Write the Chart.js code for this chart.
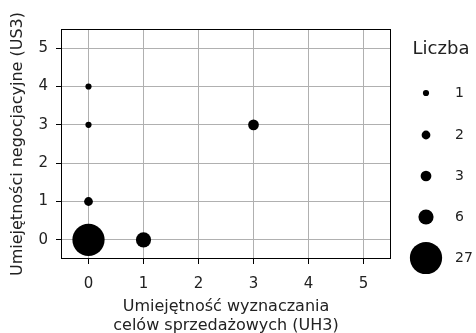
<!DOCTYPE html>
<html>
<head>
<meta charset="utf-8">
<script src="https://cdn.jsdelivr.net/npm/chart.js@4/dist/chart.umd.min.js"></script>
<style>
  html, body { margin: 0; padding: 0; background: #fff; }
  #wrap { width: 476px; height: 333px; }
</style>
</head>
<body>
<div id="wrap"><canvas id="c" width="476" height="333"></canvas></div>
<script>
// Skill pairs (UH3, US3) and how many respondents gave each pair
const uh3Values = [0, 1, 0, 0, 0, 3];
const us3Values = [0, 0, 1, 3, 4, 3];
const counts    = [27, 6, 2, 1, 1, 3];
const tickLabels = [0, 1, 2, 3, 4, 5];
const legendCounts = [1, 2, 3, 6, 27];

const FONT = "'DejaVu Sans', sans-serif";
const radiusFor = n => 3.1 * Math.sqrt(n);

const points = uh3Values.map((x, i) => ({ x: x, y: us3Values[i], n: counts[i] }));

const frameAndLegend = {
  id: 'frameAndLegend',
  afterDraw(chart) {
    const { ctx, chartArea: a } = chart;
    ctx.save();
    ctx.strokeStyle = '#000';
    ctx.lineWidth = 1;
    ctx.strokeRect(a.left + 0.5, a.top + 0.5, a.right - a.left - 1, a.bottom - a.top - 1);

    // size legend
    ctx.fillStyle = '#222';
    ctx.font = '18px ' + FONT;
    ctx.textAlign = 'center';
    ctx.textBaseline = 'middle';
    ctx.fillText('Liczba', 441, 49);
    const ys = [93, 135, 176, 217, 258];
    legendCounts.forEach((n, i) => {
      ctx.beginPath();
      ctx.fillStyle = '#000';
      ctx.arc(426, ys[i], radiusFor(n), 0, Math.PI * 2);
      ctx.fill();
      ctx.fillStyle = '#222';
      ctx.font = '14px ' + FONT;
      ctx.textAlign = 'left';
      ctx.fillText(String(n), 455, ys[i]);
    });
    ctx.restore();
  }
};

const fixedTicks = scale => { scale.ticks = tickLabels.map(v => ({ value: v })); };

new Chart(document.getElementById('c'), {
  type: 'scatter',
  data: {
    datasets: [{
      data: points,
      backgroundColor: '#000',
      borderColor: '#000',
      borderWidth: 0,
      pointRadius: ctx => radiusFor(ctx.raw ? ctx.raw.n : 1),
      pointHoverRadius: ctx => radiusFor(ctx.raw ? ctx.raw.n : 1)
    }]
  },
  options: {
    responsive: false,
    animation: false,
    events: [],
    layout: { padding: { top: 29, right: 85, left: 0, bottom: 0 } },
    plugins: { legend: { display: false }, tooltip: { enabled: false } },
    scales: {
      x: {
        type: 'linear',
        min: -0.5, max: 5.5,
        afterBuildTicks: fixedTicks,
        afterFit: s => { s.height = 74; },
        border: { display: false },
        grid: { color: '#b0b0b0', lineWidth: 1, tickColor: '#000', tickLength: 5, drawTicks: true },
        ticks: { color: '#222', font: { family: FONT, size: 15 }, padding: 11, maxRotation: 0 },
        title: {
          display: true,
          text: ['Umiejętność wyznaczania', 'celów sprzedażowych (UH3)'],
          color: '#222',
          font: { family: FONT, size: 16, lineHeight: 1.22 },
          padding: { top: 2, bottom: -3 }
        }
      },
      y: {
        type: 'linear',
        min: -0.5, max: 5.5,
        afterBuildTicks: fixedTicks,
        afterFit: s => { s.width = 61; },
        border: { display: false },
        grid: { color: '#b0b0b0', lineWidth: 1, tickColor: '#000', tickLength: 5, drawTicks: true },
        ticks: { color: '#222', font: { family: FONT, size: 15 }, padding: 8 },
        title: {
          display: true,
          text: 'Umiejętności negocjacyjne (US3)',
          color: '#222',
          font: { family: FONT, size: 16 },
          padding: { top: 8, bottom: 2 }
        }
      }
    }
  },
  plugins: [frameAndLegend]
});
</script>
</body>
</html>
